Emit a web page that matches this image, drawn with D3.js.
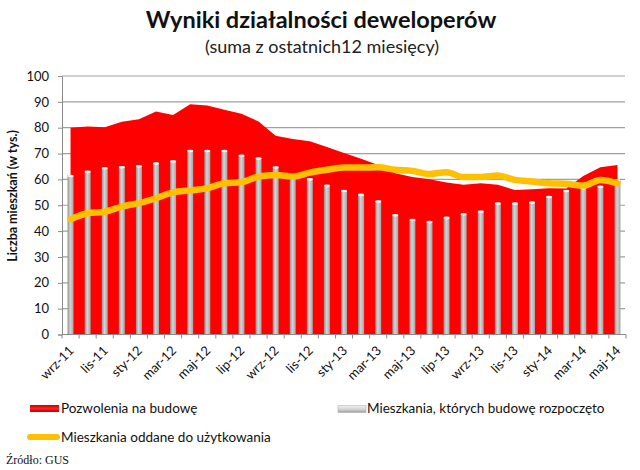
<!DOCTYPE html>
<html>
<head>
<meta charset="utf-8">
<script src="https://cdn.jsdelivr.net/npm/d3@7"></script>
<style>
  html, body { margin: 0; padding: 0; background: #fff; }
  svg { display: block; font-family: Lato, "Open Sans", sans-serif; }
</style>
</head>
<body>
<svg id="chart" width="640" height="470"></svg>
<script>
const categories = ["wrz-11","paź-11","lis-11","gru-11","sty-12","lut-12","mar-12","kwi-12","maj-12","cze-12","lip-12","sie-12",
  "wrz-12","paź-12","lis-12","gru-12","sty-13","lut-13","mar-13","kwi-13","maj-13","cze-13","lip-13","sie-13",
  "wrz-13","paź-13","lis-13","gru-13","sty-14","lut-14","mar-14","kwi-14","maj-14"];
const permits = [80.0,80.5,80.2,82.3,83.3,86.3,84.9,89.1,88.6,86.9,85.4,82.4,
  76.9,75.6,74.8,72.5,70.2,68.0,65.6,62.4,60.9,60.1,58.8,57.9,
  58.5,57.9,55.9,56.2,56.6,56.5,61.3,64.7,65.6];
const starts = [61.7,63.3,64.7,65.1,65.5,66.5,67.3,71.4,71.4,71.4,69.5,68.5,
  65.0,62.0,60.4,57.9,55.9,54.4,51.8,46.5,44.7,43.9,45.5,46.9,
  47.9,51.0,51.0,51.4,53.6,55.9,57.0,57.5,60.0];
const completions = [44.6,46.9,47.5,49.5,50.8,52.7,55.0,55.7,56.6,58.5,58.9,61.1,
  61.7,61.1,62.6,63.7,64.6,64.6,64.7,63.7,63.3,62.1,62.8,60.9,
  60.9,61.5,59.8,59.2,58.5,58.3,57.6,59.8,58.5];
const yTicks = [0,10,20,30,40,50,60,70,80,90,100];
const seriesNames = ["Pozwolenia na budowę","Mieszkania, których budowę rozpoczęto","Mieszkania oddane do użytkowania"];
const title = "Wyniki działalności deweloperów";
const subtitle = "(suma z ostatnich12 miesięcy)";
const yTitle = "Liczba mieszkań (w tys.)";
const source = "Źródło: GUS";

const svg = d3.select("#chart");
const pLeft = 62, pRight = 626, pTop = 76, pBottom = 334.5;
const x = d3.scaleBand().domain(categories).range([pLeft, pRight]);
const y = d3.scaleLinear().domain([0, 100]).range([pBottom, pTop]);
const cx = d => x(d) + x.bandwidth() / 2;

const defs = svg.append("defs");
const barGrad = defs.append("linearGradient").attr("id", "barGrad").attr("x1", 0).attr("x2", 1).attr("y1", 0).attr("y2", 0);
barGrad.append("stop").attr("offset", "0%").attr("stop-color", "#8e8e8e");
barGrad.append("stop").attr("offset", "45%").attr("stop-color", "#d4d4d4");
barGrad.append("stop").attr("offset", "100%").attr("stop-color", "#a4a4a4");
const redGrad = defs.append("linearGradient").attr("id", "redGrad").attr("x1", 0).attr("x2", 0).attr("y1", 0).attr("y2", 1);
redGrad.append("stop").attr("offset", "0%").attr("stop-color", "#c80000");
redGrad.append("stop").attr("offset", "50%").attr("stop-color", "#ff2020");
redGrad.append("stop").attr("offset", "100%").attr("stop-color", "#c00000");
const legGrayGrad = defs.append("linearGradient").attr("id", "legGray").attr("x1", 0).attr("x2", 0).attr("y1", 0).attr("y2", 1);
legGrayGrad.append("stop").attr("offset", "0%").attr("stop-color", "#f2f2f2");
legGrayGrad.append("stop").attr("offset", "60%").attr("stop-color", "#d0d0d0");
legGrayGrad.append("stop").attr("offset", "100%").attr("stop-color", "#9a9a9a");

// Titles
svg.append("text").attr("x", 321).attr("y", 28).attr("text-anchor", "middle")
  .attr("font-size", 23.5).attr("font-weight", "bold").attr("fill", "#111").text(title);
svg.append("text").attr("x", 322).attr("y", 53).attr("text-anchor", "middle")
  .attr("font-size", 18).attr("fill", "#222").text(subtitle);

// Gridlines
svg.append("g").selectAll("line").data(yTicks.filter(t => t > 0)).join("line")
  .attr("x1", pLeft).attr("x2", pRight - 1).attr("y1", d => y(d)).attr("y2", d => y(d))
  .attr("stroke", "#a0a0a0").attr("stroke-width", 1.2);

// Area (permits)
const area = d3.area().x((d, i) => cx(categories[i])).y0(y(0)).y1(d => y(d));
svg.append("path").datum(permits).attr("d", area).attr("fill", "#ff0000");

// Bars (starts)
const bw = 6;
const bars = svg.append("g");
bars.selectAll("rect").data(starts).join("rect")
  .attr("x", (d, i) => cx(categories[i]) - bw / 2)
  .attr("width", bw)
  .attr("y", d => y(d))
  .attr("height", d => y(0) - y(d))
  .attr("fill", "url(#barGrad)");
bars.selectAll("ellipse").data(starts).join("ellipse")
  .attr("cx", (d, i) => cx(categories[i]))
  .attr("cy", d => y(d) + 1)
  .attr("rx", bw / 2).attr("ry", 1.3)
  .attr("fill", "#f4f4f4");

// Line (completions)
const line = d3.line().x((d, i) => cx(categories[i])).y(d => y(d)).curve(d3.curveMonotoneX);
svg.append("path").datum(completions).attr("d", line)
  .attr("fill", "none").attr("stroke", "#ffc000").attr("stroke-width", 6.5)
  .attr("stroke-linecap", "round").attr("stroke-linejoin", "round");

// Y axis
const yAxis = svg.append("g").attr("transform", `translate(${pLeft},0)`)
  .call(d3.axisLeft(y).tickValues(yTicks).tickSize(4).tickPadding(9));
yAxis.select(".domain").attr("stroke", "#8a8a8a");
yAxis.selectAll(".tick line").attr("stroke", "#8a8a8a");
yAxis.selectAll("text").attr("font-size", 13).attr("font-family", "Lato, sans-serif").attr("fill", "#111");

// X axis
const xAxis = svg.append("g").attr("transform", `translate(0,${pBottom})`);
xAxis.append("line").attr("x1", pLeft).attr("x2", pRight).attr("y1", 0).attr("y2", 0).attr("stroke", "#8a8a8a");
const bounds = categories.map(c => x(c)).concat([pRight]);
xAxis.selectAll("line.tk").data(bounds).join("line").attr("class", "tk")
  .attr("x1", d => d).attr("x2", d => d).attr("y1", 0).attr("y2", 4).attr("stroke", "#8a8a8a");
xAxis.selectAll("text").data(categories.filter((c, i) => i % 2 === 0)).join("text")
  .attr("transform", d => `translate(${cx(d) + 4},${17}) rotate(-45)`)
  .attr("text-anchor", "end").attr("font-size", 13).attr("fill", "#111").text(d => d);

// Y title
svg.append("text").attr("transform", "translate(17,196) rotate(-90)").attr("text-anchor", "middle")
  .attr("font-size", 12.5).attr("font-weight", "bold").attr("fill", "#111").text(yTitle);

// Legend
const lg = svg.append("g").attr("font-size", 13.5).attr("fill", "#111");
lg.append("rect").attr("x", 30).attr("y", 405).attr("width", 29).attr("height", 7).attr("fill", "url(#redGrad)");
lg.append("text").attr("x", 61).attr("y", 413).text(seriesNames[0]);
lg.append("rect").attr("x", 338).attr("y", 405.5).attr("width", 28).attr("height", 7).attr("fill", "url(#legGray)").attr("stroke", "#aaa").attr("stroke-width", 0.5);
lg.append("text").attr("x", 367).attr("y", 413).text(seriesNames[1]);
lg.append("line").attr("x1", 30).attr("x2", 57).attr("y1", 437).attr("y2", 437)
  .attr("stroke", "#ffc000").attr("stroke-width", 6).attr("stroke-linecap", "round");
lg.append("text").attr("x", 61).attr("y", 442).text(seriesNames[2]);

svg.append("text").attr("x", 6).attr("y", 464).attr("font-family", "'Liberation Serif', 'DejaVu Serif', serif")
  .attr("font-size", 12).attr("fill", "#111").text(source);
</script>
</body>
</html>
